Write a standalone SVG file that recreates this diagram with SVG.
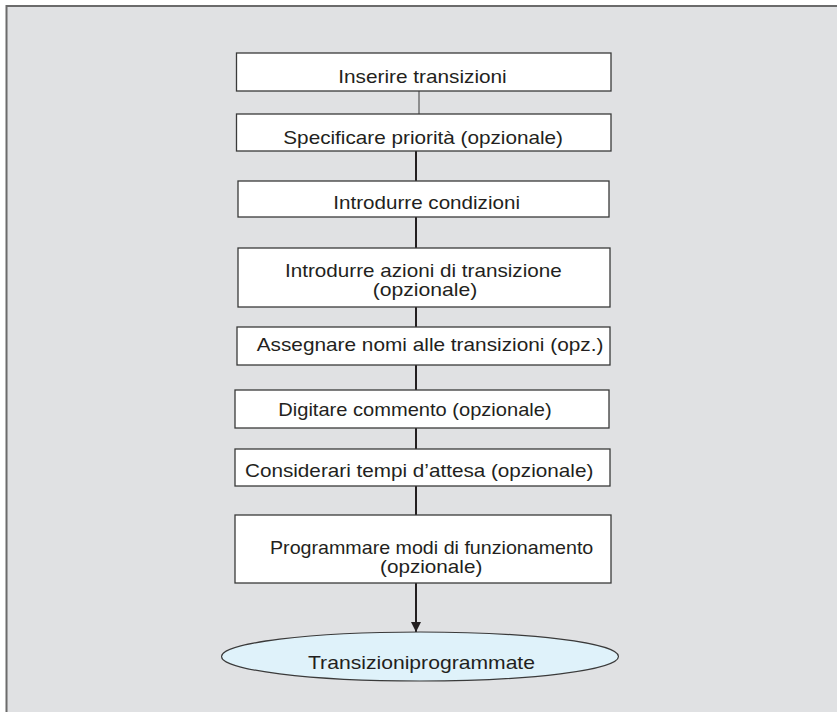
<svg xmlns="http://www.w3.org/2000/svg" width="837" height="712" viewBox="0 0 837 712">
  <style>
    .box { fill: #ffffff; stroke: #3a3a3a; stroke-width: 1.3; }
    .lbl { font-family: "Liberation Sans", Arial, sans-serif; font-size: 18.5px; fill: #231f20; }
    .thin { stroke: #3a3a3a; stroke-width: 1; fill: none; }
    .thick { stroke: #231f20; stroke-width: 2; fill: none; }
  </style>
  <defs>
    <marker id="arrow" viewBox="0 0 10 16" refX="10" refY="8" markerWidth="10" markerHeight="16" markerUnits="userSpaceOnUse" orient="auto">
      <path d="M0,3 L10,8 L0,13 Z" fill="#231f20"/>
    </marker>
  </defs>

  <!-- page background and frame -->
  <rect x="0" y="0" width="837" height="712" fill="#ffffff"/>
  <rect x="6.5" y="6" width="840" height="720" fill="#e0e1e3" stroke="#6b6b6b" stroke-width="2"/>

  <!-- connectors -->
  <g id="connectors">
    <line class="thin" x1="419" y1="91" x2="419" y2="114"/>
    <line class="thick" x1="416" y1="151" x2="416" y2="181"/>
    <line class="thick" x1="416" y1="217" x2="416" y2="248"/>
    <line class="thick" x1="416" y1="307" x2="416" y2="327"/>
    <line class="thick" x1="416" y1="365" x2="416" y2="390"/>
    <line class="thick" x1="416" y1="428" x2="416" y2="449"/>
    <line class="thick" x1="416" y1="486" x2="416" y2="515"/>
    <line class="thick" x1="416" y1="583" x2="416" y2="632" marker-end="url(#arrow)"/>
  </g>

  <g id="n1">
    <rect class="box" x="236.5" y="53" width="374.5" height="38"/>
    <text class="lbl" x="338.3" y="83.3" textLength="168.4" lengthAdjust="spacingAndGlyphs">Inserire transizioni</text>
  </g>
  <g id="n2">
    <rect class="box" x="236.5" y="114" width="374.5" height="37"/>
    <text class="lbl" x="283.3" y="144.3" textLength="279.7" lengthAdjust="spacingAndGlyphs">Specificare priorità (opzionale)</text>
  </g>
  <g id="n3">
    <rect class="box" x="238" y="181" width="371" height="36"/>
    <text class="lbl" x="333.3" y="209.3" textLength="186.7" lengthAdjust="spacingAndGlyphs">Introdurre condizioni</text>
  </g>
  <g id="n4">
    <rect class="box" x="238" y="248" width="372" height="59"/>
    <text class="lbl" x="285" y="276.5" textLength="276.7" lengthAdjust="spacingAndGlyphs">Introdurre azioni di transizione</text>
    <text class="lbl" x="372.7" y="296" textLength="104.7" lengthAdjust="spacingAndGlyphs">(opzionale)</text>
  </g>
  <g id="n5">
    <rect class="box" x="237" y="327" width="373" height="38"/>
    <text class="lbl" x="256.7" y="350.5" textLength="346.7" lengthAdjust="spacingAndGlyphs">Assegnare nomi alle transizioni (opz.)</text>
  </g>
  <g id="n6">
    <rect class="box" x="235" y="390" width="374" height="38"/>
    <text class="lbl" x="278.3" y="416" textLength="273.3" lengthAdjust="spacingAndGlyphs">Digitare commento (opzionale)</text>
  </g>
  <g id="n7">
    <rect class="box" x="235" y="449" width="375" height="37"/>
    <text class="lbl" x="245" y="477" textLength="348.3" lengthAdjust="spacingAndGlyphs">Considerari tempi d’attesa (opzionale)</text>
  </g>
  <g id="n8">
    <rect class="box" x="235" y="515" width="376" height="68"/>
    <text class="lbl" x="270" y="554" textLength="323.3" lengthAdjust="spacingAndGlyphs">Programmare modi di funzionamento</text>
    <text class="lbl" x="380" y="573" textLength="102.3" lengthAdjust="spacingAndGlyphs">(opzionale)</text>
  </g>
  <g id="n9">
    <ellipse cx="420" cy="656.5" rx="198.5" ry="24.5" fill="#dff2fa" stroke="#3a3a3a" stroke-width="1.2"/>
    <text class="lbl" x="308" y="669" textLength="227" lengthAdjust="spacingAndGlyphs">Transizioniprogrammate</text>
  </g>
</svg>
